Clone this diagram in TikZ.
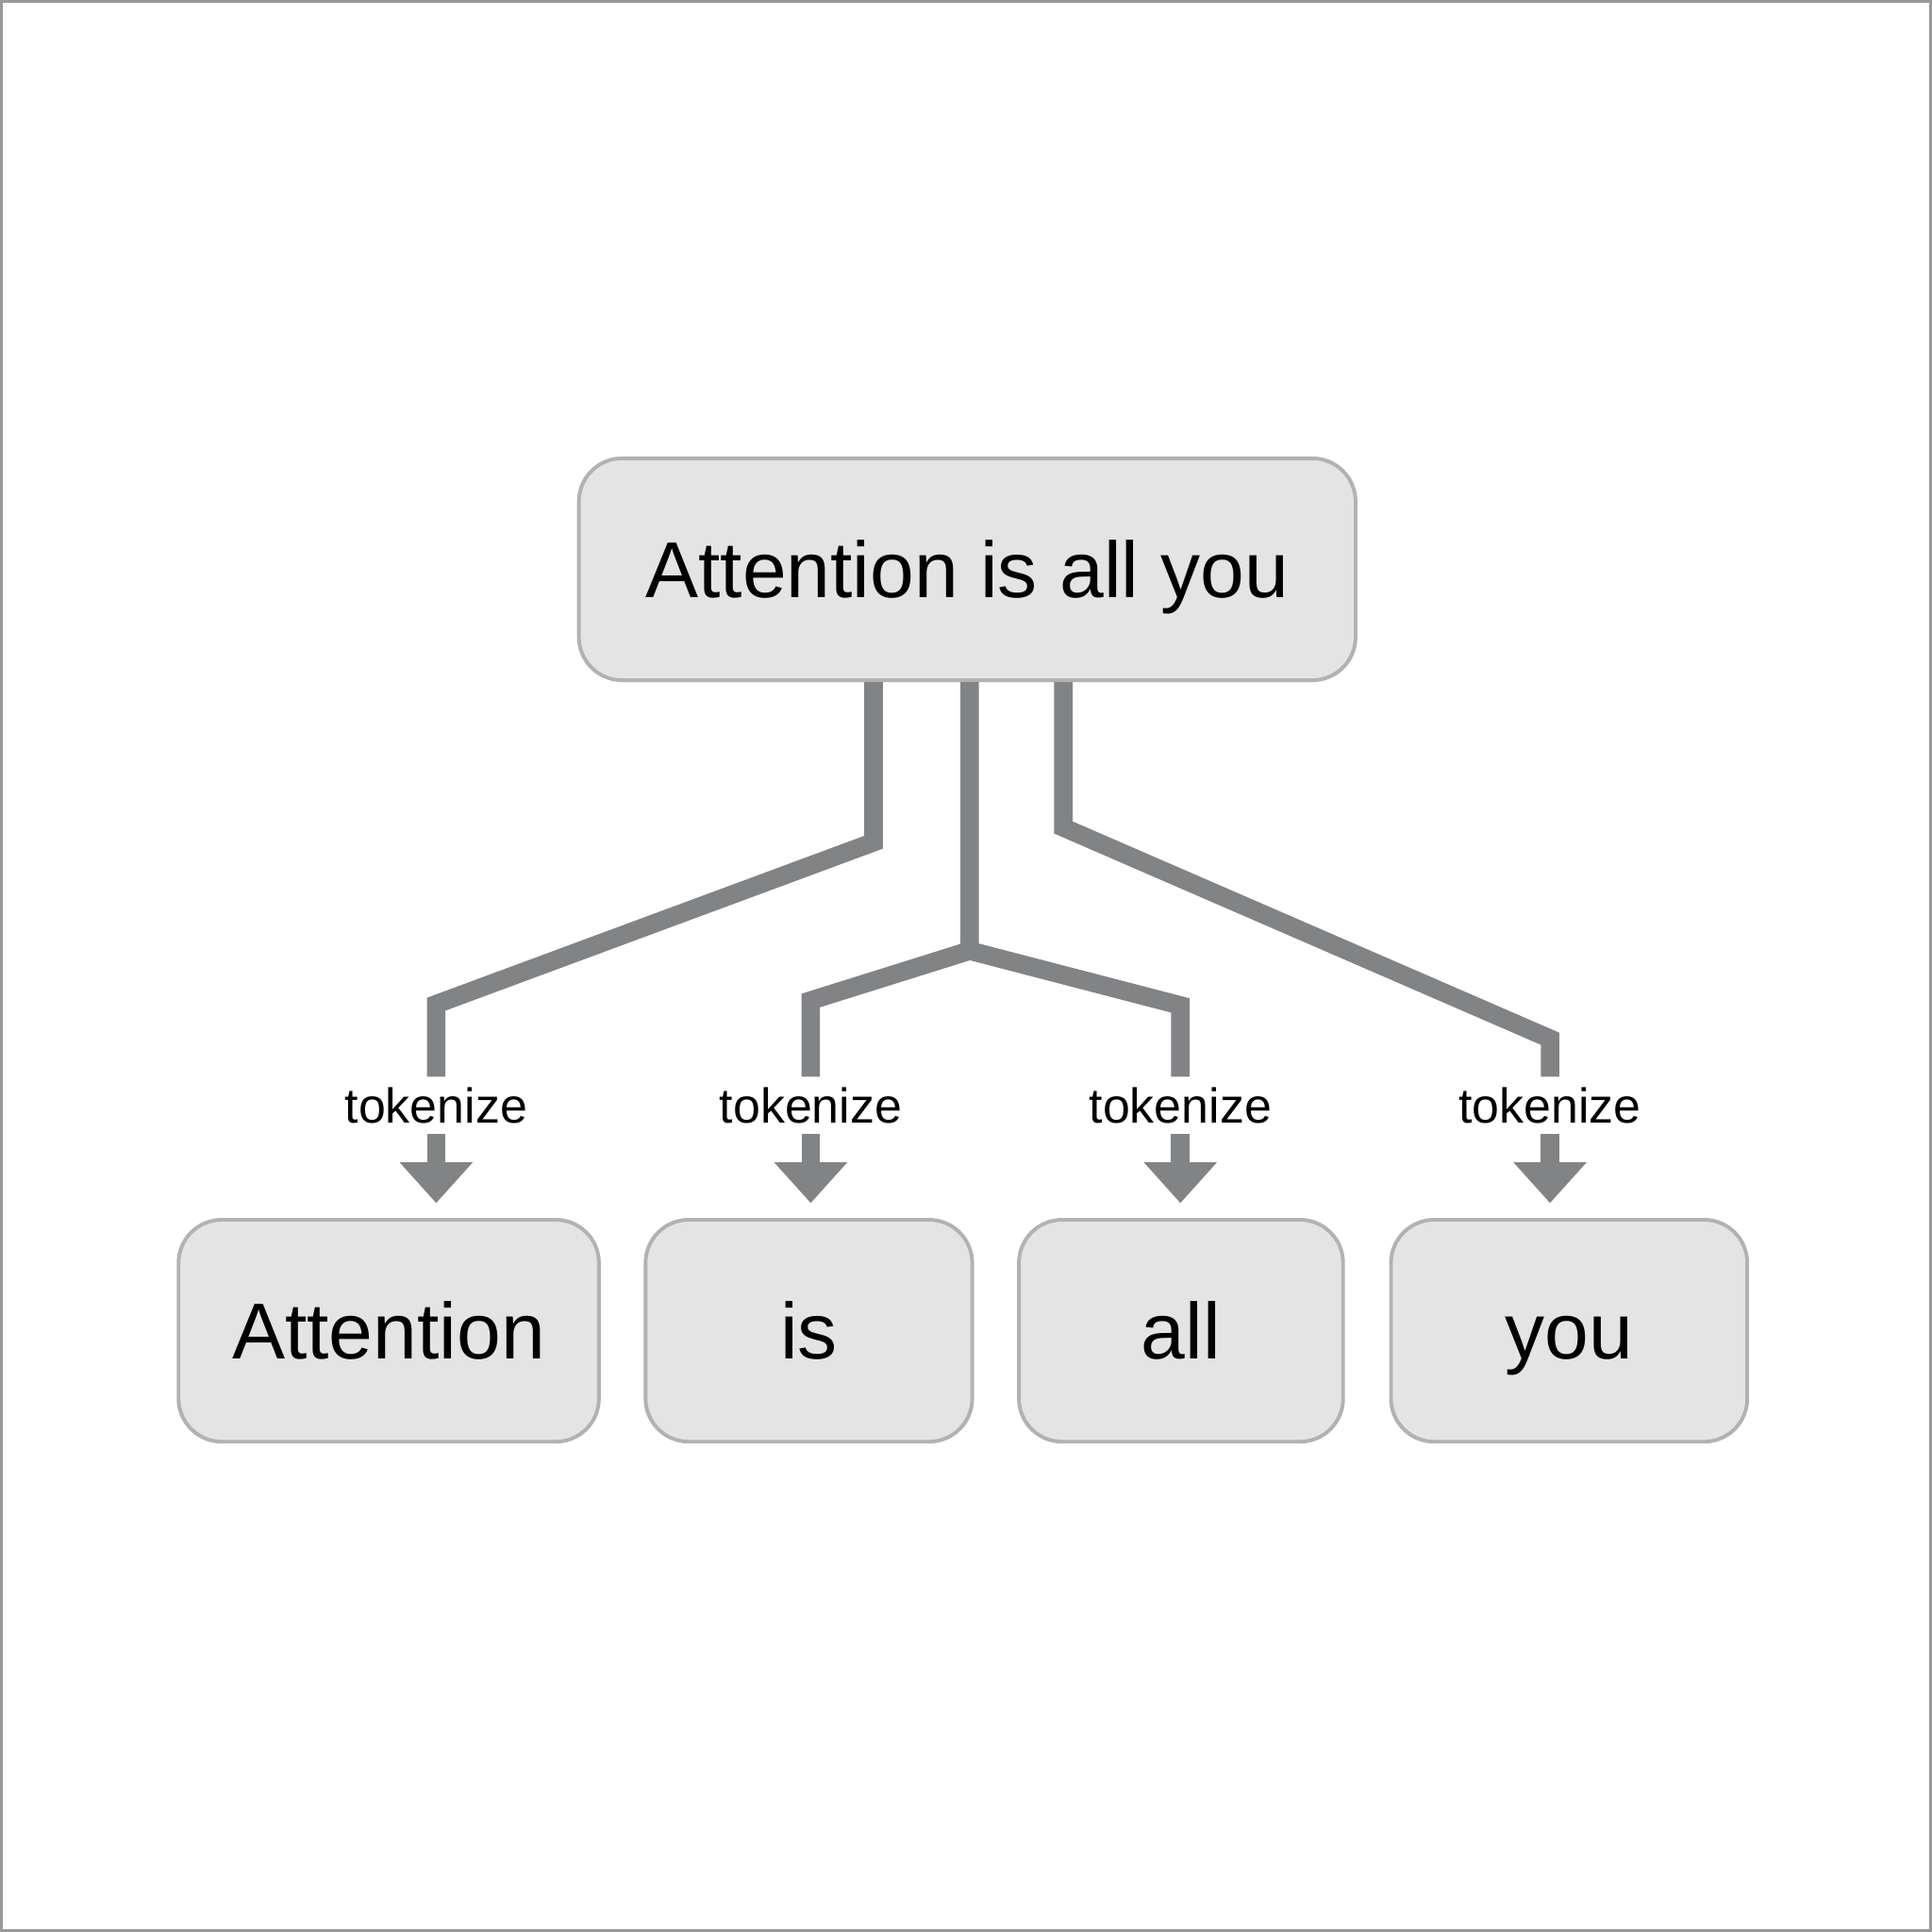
\documentclass[tikz,border=0pt]{standalone}
\usepackage{fontspec}
\setmainfont{Liberation Sans}
\usetikzlibrary{arrows.meta}
\definecolor{boxfill}{HTML}{E4E4E4}
\definecolor{boxline}{HTML}{B2B2B2}
\definecolor{linkgray}{HTML}{828385}
\begin{document}
\begin{tikzpicture}[x=0.01cm, y=-0.01cm,
	wordbox/.style = {draw=boxline, fill=boxfill, line width=0.03cm, rounded corners=0.35cm,
		minimum height=1.8cm, inner sep=0pt, font=\fontsize{18.3}{22}\selectfont,
		text height=0.46cm, text depth=0pt},
	toklabel/.style = {inner sep=0pt, minimum height=0.45cm, font=\fontsize{11.3}{14}\selectfont,
		text height=0.29cm, text depth=0pt},
	splitline/.style = {draw=linkgray, line width=0.15cm},
	tokarrow/.style = {splitline, -{Triangle[width=0.57cm, length=0.33cm]}, shorten >=0.12cm}]
	% Frame
	\useasboundingbox (0,0) rectangle (1568,1568);
	\draw[gray!80, line width=0.02cm] (1,1) rectangle (1567,1567);

	% Nodes
	\node[wordbox, minimum width=6.3cm] (top) at (785,462) {Attention is all you};
	\node[wordbox, minimum width=3.41cm] (w1) at (315.5,1080) {Attention};
	\node[wordbox, minimum width=2.65cm] (w2) at (656.5,1080) {is};
	\node[wordbox, minimum width=2.63cm] (w3) at (958.5,1080) {all};
	\node[wordbox, minimum width=2.89cm] (w4) at (1273.5,1080) {you};

	\node[toklabel] (t1) at (354,897) {tokenize};
	\node[toklabel] (t2) at (658,897) {tokenize};
	\node[toklabel] (t3) at (958,897) {tokenize};
	\node[toklabel] (t4) at (1258,897) {tokenize};

	% Splits
	\draw[splitline] ([xshift=-0.76cm]top.south) -- ++(0,130) -- (354,815) -- (t1.north);
	\draw[splitline] ([xshift=0.02cm]top.south) -- ++(0,218) coordinate (mid) -- (658,812) -- (t2.north);
	\draw[splitline] (mid) -- (958,816) -- (t3.north);
	\draw[splitline] ([xshift=0.78cm]top.south) -- ++(0,118) -- (1258,843) -- (t4.north);

	% Arrows
	\draw[tokarrow] (t1.south) -- (t1.south |- w1.north);
	\draw[tokarrow] (t2.south) -- (t2.south |- w2.north);
	\draw[tokarrow] (t3.south) -- (t3.south |- w3.north);
	\draw[tokarrow] (t4.south) -- (t4.south |- w4.north);
\end{tikzpicture}
\end{document}
